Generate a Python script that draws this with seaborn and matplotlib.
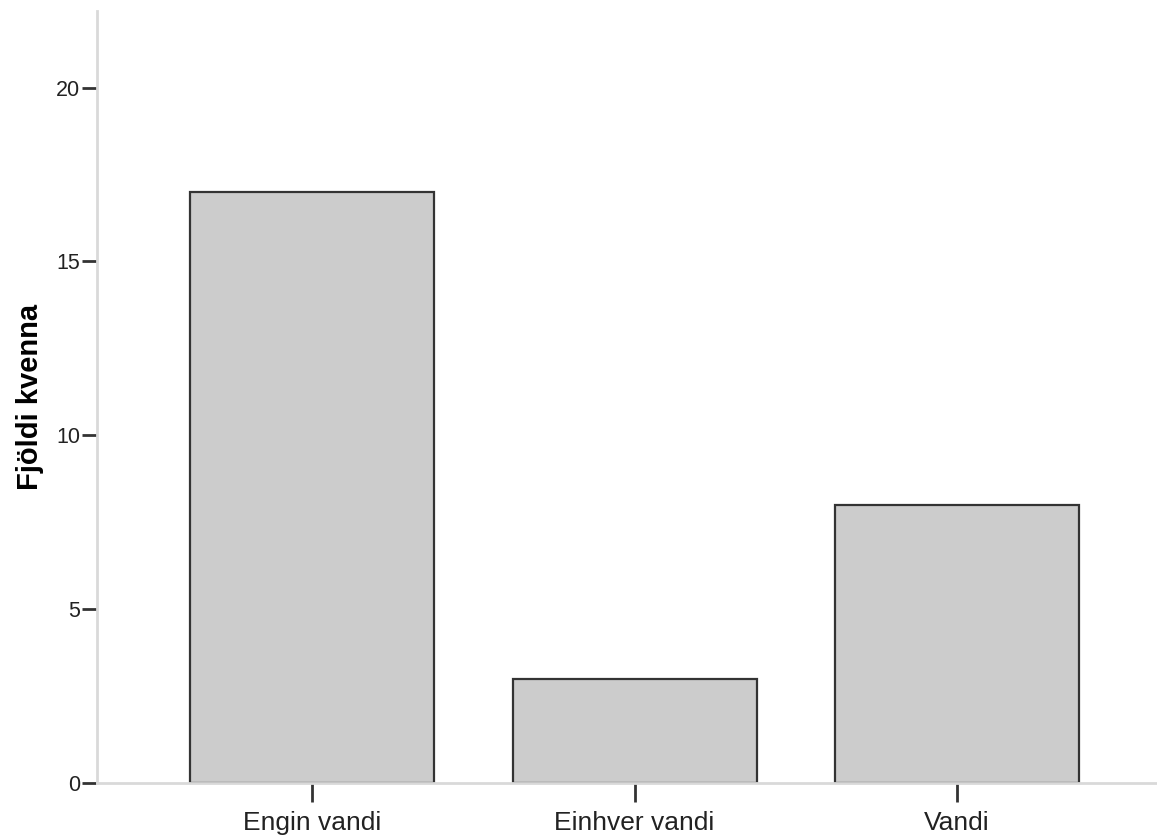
import matplotlib
matplotlib.use("Agg")
import matplotlib.pyplot as plt
import seaborn as sns
import pandas as pd

# data
categories = ["Engin vandi", "Einhver vandi", "Vandi"]
counts = [17, 3, 8]
y_ticks = [0, 5, 10, 15, 20]
y_label = "Fjöldi kvenna"

df = pd.DataFrame({"flokkur": categories, "fjoldi": counts})

sns.set_style("white")
plt.rcParams["font.family"] = ["Liberation Sans", "DejaVu Sans"]
plt.rcParams["text.color"] = "#111111"
plt.rcParams["axes.labelcolor"] = "#000000"
plt.rcParams["xtick.labelcolor"] = "#222222"
plt.rcParams["ytick.labelcolor"] = "#222222"

fig = plt.figure(figsize=(11.57, 8.35), dpi=100)
ax = fig.add_axes([97 / 1157, 52 / 835, 1 - 97 / 1157, (783 - 11) / 835])

sns.barplot(data=df, x="flokkur", y="fjoldi", color="#cccccc", width=0.757,
            edgecolor="#333333", linewidth=1.6, saturation=1, ax=ax)

ax.set_xlim(-0.667, 2.62)
ax.set_ylim(0, 22.2)
ax.set_yticks(y_ticks)
ax.set_yticklabels([str(t) for t in y_ticks], fontsize=15.5)
ax.set_xticks(range(len(categories)))
ax.set_xticklabels(categories, fontsize=19)
ax.set_xlabel("")
ax.set_ylabel(y_label, fontsize=21, fontweight="bold", labelpad=9)

for side in ["top", "right"]:
    ax.spines[side].set_visible(False)
for side in ["left", "bottom"]:
    ax.spines[side].set_color("#d9d9d9")
    ax.spines[side].set_linewidth(2)

ax.tick_params(axis="y", direction="out", length=11, width=2, color="#333333",
               pad=1, left=True)
ax.tick_params(axis="x", direction="out", length=14, width=2, color="#333333",
               pad=6, bottom=True)

fig.savefig("out.png", dpi=100)
